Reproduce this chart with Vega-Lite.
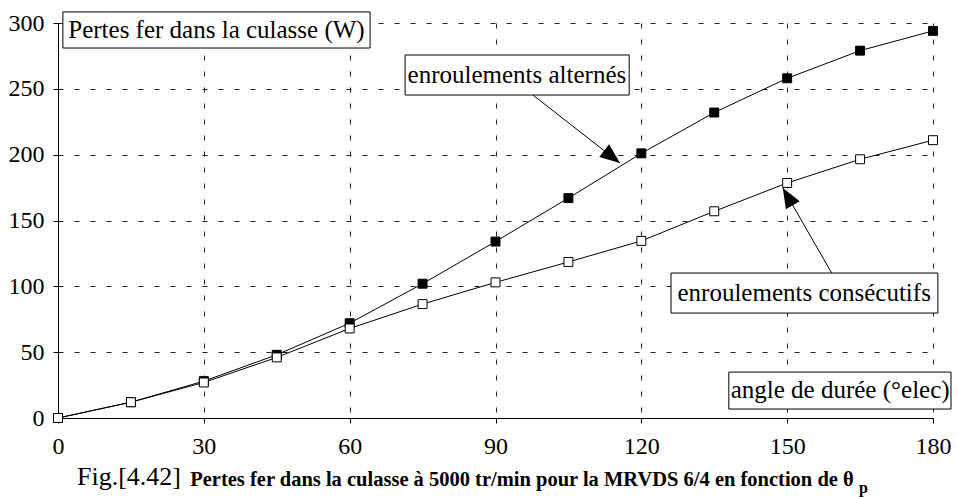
{
  "$schema": "https://vega.github.io/schema/vega-lite/v6.json",
  "width": 875,
  "height": 395,
  "autosize": {"type": "none"},
  "padding": {"left": 58, "top": 23, "right": 24, "bottom": 80},
  "background": "white",
  "config": {
    "view": {"stroke": null},
    "font": "Liberation Serif, Times New Roman, Times, serif",
    "axis": {
      "labelFont": "Liberation Serif, Times New Roman, Times, serif",
      "labelFontSize": 24,
      "labelColor": "black",
      "domainColor": "black",
      "tickColor": "black",
      "gridColor": "#222",
      "gridDash": [5, 11],
      "gridOpacity": 1,
      "tickSize": 5,
      "title": null
    }
  },
  "datasets": {
    "series": [
      {"angle": 0, "pertes": 0, "serie": "alternés"},
      {"angle": 15, "pertes": 12, "serie": "alternés"},
      {"angle": 30, "pertes": 28, "serie": "alternés"},
      {"angle": 45, "pertes": 48, "serie": "alternés"},
      {"angle": 60, "pertes": 72, "serie": "alternés"},
      {"angle": 75, "pertes": 102, "serie": "alternés"},
      {"angle": 90, "pertes": 134, "serie": "alternés"},
      {"angle": 105, "pertes": 167, "serie": "alternés"},
      {"angle": 120, "pertes": 201, "serie": "alternés"},
      {"angle": 135, "pertes": 232, "serie": "alternés"},
      {"angle": 150, "pertes": 258, "serie": "alternés"},
      {"angle": 165, "pertes": 279, "serie": "alternés"},
      {"angle": 180, "pertes": 294, "serie": "alternés"},
      {"angle": 0, "pertes": 0, "serie": "consécutifs"},
      {"angle": 15, "pertes": 12, "serie": "consécutifs"},
      {"angle": 30, "pertes": 27, "serie": "consécutifs"},
      {"angle": 45, "pertes": 46, "serie": "consécutifs"},
      {"angle": 60, "pertes": 68, "serie": "consécutifs"},
      {"angle": 75, "pertes": 86.5, "serie": "consécutifs"},
      {"angle": 90, "pertes": 103, "serie": "consécutifs"},
      {"angle": 105, "pertes": 118.5, "serie": "consécutifs"},
      {"angle": 120, "pertes": 134.5, "serie": "consécutifs"},
      {"angle": 135, "pertes": 157, "serie": "consécutifs"},
      {"angle": 150, "pertes": 178.5, "serie": "consécutifs"},
      {"angle": 165, "pertes": 196.5, "serie": "consécutifs"},
      {"angle": 180, "pertes": 211, "serie": "consécutifs"}
    ],
    "boxes": [
      {"name": "ylabel", "label": "Pertes fer dans la culasse (W)", "x0": 1.0, "x1": 64.2, "y0": 281, "y1": 308.4, "tx": 32.6, "ty": 294.7},
      {"name": "alt", "label": "enroulements alternés", "x0": 71.4, "x1": 117.5, "y0": 245.3, "y1": 275.7, "tx": 94.4, "ty": 260.5},
      {"name": "cons", "label": "enroulements consécutifs", "x0": 126.1, "x1": 181.0, "y0": 79.7, "y1": 110.1, "tx": 153.5, "ty": 94.9},
      {"name": "xlabel", "label": "angle de durée (°elec)", "x0": 138.0, "x1": 183.7, "y0": 6.8, "y1": 34.9, "tx": 160.9, "ty": 20.9}
    ],
    "arrows": [
      {"name": "a1", "x0": 97.7, "y0": 245.3, "x1": 115.6, "y1": 193.7},
      {"name": "a2", "x0": 159.4, "y0": 108.6, "x1": 149.1, "y1": 174.7}
    ],
    "caption": [
      {"part": "fig", "label": "Fig.[4.42]", "cx": 3.9, "cy": -51.2},
      {"part": "bold", "label": "Pertes fer dans la culasse à 5000 tr/min pour la MRVDS 6/4 en fonction de θ", "cx": 27.2, "cy": -51.6},
      {"part": "sub", "label": "p", "cx": 164.8, "cy": -57.0}
    ]
  },
  "layer": [
    {
      "data": {"name": "series"},
      "mark": {"type": "line", "color": "black", "strokeWidth": 1},
      "encoding": {
        "x": {
          "field": "angle", "type": "quantitative",
          "scale": {"domain": [0, 180], "nice": false, "zero": false},
          "axis": {"values": [0, 30, 60, 90, 120, 150, 180], "labelPadding": 11, "labelFlush": false, "grid": true}
        },
        "y": {
          "field": "pertes", "type": "quantitative",
          "scale": {"domain": [0, 300], "nice": false},
          "axis": {"values": [0, 50, 100, 150, 200, 250, 300], "labelPadding": 9, "labelFlush": false, "grid": true}
        },
        "detail": {"field": "serie"}
      }
    },
    {
      "data": {"name": "series"},
      "mark": {"type": "point", "shape": "square", "size": 80, "stroke": "black", "strokeWidth": 1, "opacity": 1, "filled": false},
      "encoding": {
        "x": {"field": "angle", "type": "quantitative"},
        "y": {"field": "pertes", "type": "quantitative"},
        "fill": {"field": "serie", "type": "nominal", "scale": {"domain": ["alternés", "consécutifs"], "range": ["black", "white"]}, "legend": null}
      }
    },
    {
      "data": {"name": "arrows"},
      "mark": {"type": "rule", "color": "black", "strokeWidth": 1},
      "encoding": {
        "x": {"field": "x0", "type": "quantitative"},
        "y": {"field": "y0", "type": "quantitative"},
        "x2": {"field": "x1"},
        "y2": {"field": "y1"}
      }
    },
    {
      "data": {"name": "arrows"},
      "transform": [{"filter": "datum.name === 'a1'"}],
      "mark": {"type": "point", "shape": "M0,0L0.4,1L-0.4,1Z", "size": 1600, "filled": true, "color": "black", "opacity": 1, "angle": 128},
      "encoding": {
        "x": {"field": "x1", "type": "quantitative"},
        "y": {"field": "y1", "type": "quantitative"}
      }
    },
    {
      "data": {"name": "arrows"},
      "transform": [{"filter": "datum.name === 'a2'"}],
      "mark": {"type": "point", "shape": "M0,0L0.4,1L-0.4,1Z", "size": 1600, "filled": true, "color": "black", "opacity": 1, "angle": 330},
      "encoding": {
        "x": {"field": "x1", "type": "quantitative"},
        "y": {"field": "y1", "type": "quantitative"}
      }
    },
    {
      "data": {"name": "boxes"},
      "mark": {"type": "rect", "fill": "white", "stroke": "black", "strokeWidth": 1, "clip": false},
      "encoding": {
        "x": {"field": "x0", "type": "quantitative"},
        "x2": {"field": "x1"},
        "y": {"field": "y0", "type": "quantitative"},
        "y2": {"field": "y1"}
      }
    },
    {
      "data": {"name": "boxes"},
      "mark": {"type": "text", "font": "Liberation Serif, Times New Roman, Times, serif", "fontSize": 25, "color": "black", "align": "center", "baseline": "middle"},
      "encoding": {
        "x": {"field": "tx", "type": "quantitative"},
        "y": {"field": "ty", "type": "quantitative"},
        "text": {"field": "label"}
      }
    },
    {
      "data": {"name": "caption"},
      "transform": [{"filter": "datum.part === 'fig'"}],
      "mark": {"type": "text", "font": "Liberation Serif, Times New Roman, Times, serif", "fontSize": 26, "color": "black", "align": "left", "baseline": "alphabetic"},
      "encoding": {
        "x": {"field": "cx", "type": "quantitative"},
        "y": {"field": "cy", "type": "quantitative"},
        "text": {"field": "label"}
      }
    },
    {
      "data": {"name": "caption"},
      "transform": [{"filter": "datum.part === 'bold'"}],
      "mark": {"type": "text", "font": "Liberation Serif, Times New Roman, Times, serif", "fontSize": 20.5, "fontWeight": "bold", "color": "black", "align": "left", "baseline": "alphabetic"},
      "encoding": {
        "x": {"field": "cx", "type": "quantitative"},
        "y": {"field": "cy", "type": "quantitative"},
        "text": {"field": "label"}
      }
    },
    {
      "data": {"name": "caption"},
      "transform": [{"filter": "datum.part === 'sub'"}],
      "mark": {"type": "text", "font": "Liberation Serif, Times New Roman, Times, serif", "fontSize": 16, "fontWeight": "bold", "color": "black", "align": "left", "baseline": "alphabetic"},
      "encoding": {
        "x": {"field": "cx", "type": "quantitative"},
        "y": {"field": "cy", "type": "quantitative"},
        "text": {"field": "label"}
      }
    }
  ]
}
